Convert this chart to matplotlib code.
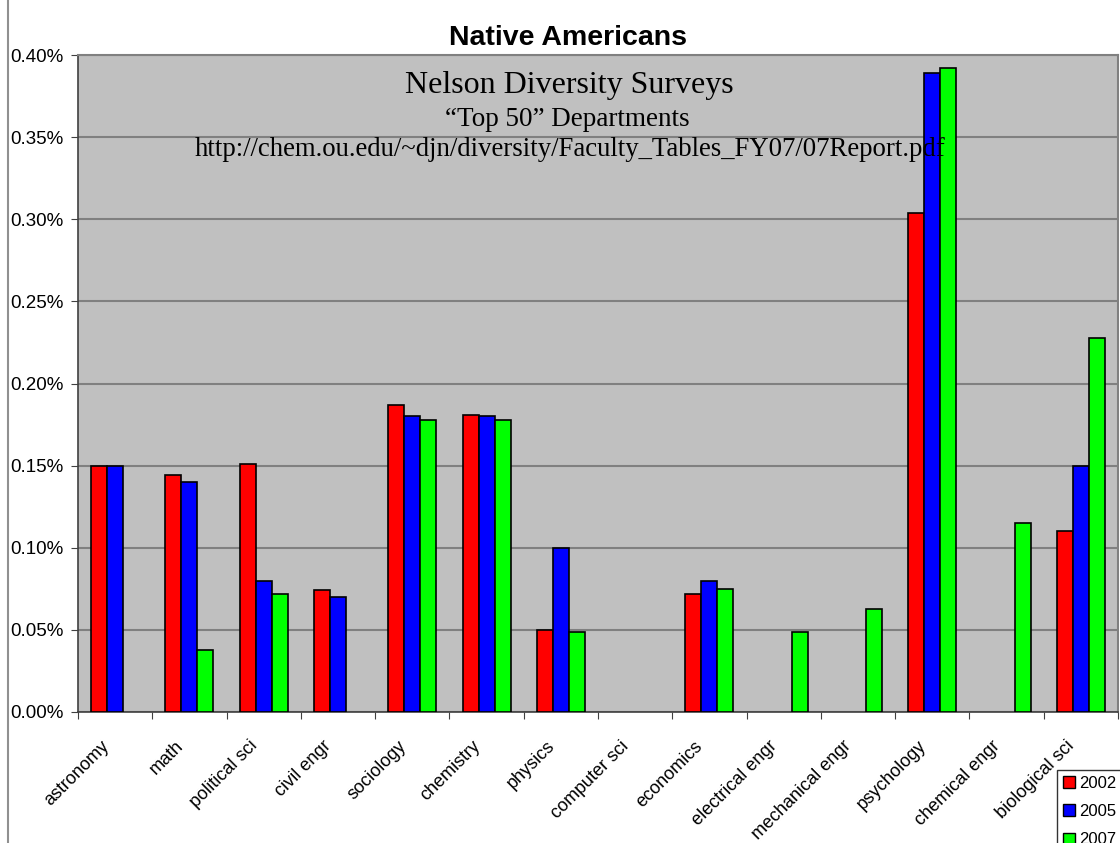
import numpy as np
import matplotlib.pyplot as plt
import matplotlib.transforms as mtransforms
from matplotlib.patches import Patch
from matplotlib.lines import Line2D
from matplotlib.ticker import FuncFormatter

categories = ["astronomy", "math", "political sci", "civil engr", "sociology",
              "chemistry", "physics", "computer sci", "economics", "electrical engr",
              "mechanical engr", "psychology", "chemical engr", "biological sci"]

# percent of faculty (nan = no bar)
nan = np.nan
vals_2002 = [0.150, 0.144, 0.151, 0.074, 0.187, 0.181, 0.050, nan, 0.072, nan, nan, 0.304, nan, 0.110]
vals_2005 = [0.150, 0.140, 0.080, 0.070, 0.180, 0.180, 0.100, nan, 0.080, nan, nan, 0.389, nan, 0.150]
vals_2007 = [nan, 0.0375, 0.0716, nan, 0.178, 0.1775, 0.0485, nan, 0.075, 0.049, 0.0625, 0.392, 0.115, 0.228]

years = ["2002", "2005", "2007"]
colors = ["#ff0000", "#0000ff", "#00ff00"]

plt.rcParams['font.family'] = ['Liberation Sans', 'DejaVu Sans']

fig = plt.figure(figsize=(11.2, 8.43), dpi=100)
ax = fig.add_axes([78 / 1120, 1 - 712 / 843, 1040 / 1120, 657 / 843])
ax.set_facecolor("#c0c0c0")

x = np.arange(len(categories))
w = 0.215
for k, (vals, c) in enumerate(zip([vals_2002, vals_2005, vals_2007], colors)):
    v = np.array(vals, dtype=float)
    m = ~np.isnan(v)
    ax.bar(x[m] + (k - 1) * w, v[m], width=w, color=c, edgecolor="black", linewidth=1.2, zorder=3)

ax.set_xlim(-0.5, len(categories) - 0.5)
ax.set_ylim(0, 0.40)
ax.set_yticks(np.arange(0, 0.401, 0.05))
ax.yaxis.set_major_formatter(FuncFormatter(lambda v, p: f"{v:.2f}%"))
ax.grid(axis="y", color="#808080", linewidth=1.5, zorder=1)

ax.set_xticks(np.arange(-0.5, len(categories), 1.0))
ax.set_xticklabels([])
ax.set_xticks(x, minor=True)
ax.set_xticklabels(categories, minor=True, rotation=45, ha="right", rotation_mode="anchor", fontsize=13)
ax.tick_params(axis="x", which="minor", length=0, pad=14)
ax.tick_params(axis="x", which="major", length=5, color="#404040", direction="out")
ax.tick_params(axis="y", length=5, color="#404040", labelsize=13.5, pad=5.5)

# shift category labels a bit left/down like the original
shift = mtransforms.ScaledTranslation(-15 / 100, -6 / 100, fig.dpi_scale_trans)
for lab in ax.get_xticklabels(minor=True):
    lab.set_transform(lab.get_transform() + shift)

for s in ["top", "right"]:
    ax.spines[s].set_color("#808080")
    ax.spines[s].set_linewidth(1.5)
for s in ["left", "bottom"]:
    ax.spines[s].set_color("#404040")
    ax.spines[s].set_linewidth(1.2)

fig.text(568 / 1120, 1 - 38 / 843, "Native Americans", ha="center", va="center",
         fontsize=20.5, fontweight="bold")

serif = ['Liberation Serif', 'DejaVu Serif']
fig.text(569 / 1120, 1 - 86 / 843, "Nelson Diversity Surveys", ha="center", va="center",
         fontsize=23, family=serif)
fig.text(567 / 1120, 1 - 119 / 843, "\u201cTop 50\u201d Departments", ha="center", va="center",
         fontsize=19.5, family=serif)
fig.text(570 / 1120, 1 - 149 / 843, "http://chem.ou.edu/~djn/diversity/Faculty_Tables_FY07/07Report.pdf",
         ha="center", va="center", fontsize=19.3, family=serif)

fig.add_artist(Line2D([8 / 1120, 8 / 1120], [0, 1], color="#909090", linewidth=1.5))

handles = [Patch(facecolor=c, edgecolor="black", linewidth=1) for c in colors]
fig.legend(handles, years, loc="upper left", bbox_to_anchor=(1057 / 1120, 1 - 770 / 843),
           frameon=True, fancybox=False, edgecolor="black", fontsize=12,
           handlelength=0.75, handleheight=0.75, handletextpad=0.2, labelspacing=0.8,
           borderpad=0.35, borderaxespad=0)

fig.savefig("out.png", dpi=100)
